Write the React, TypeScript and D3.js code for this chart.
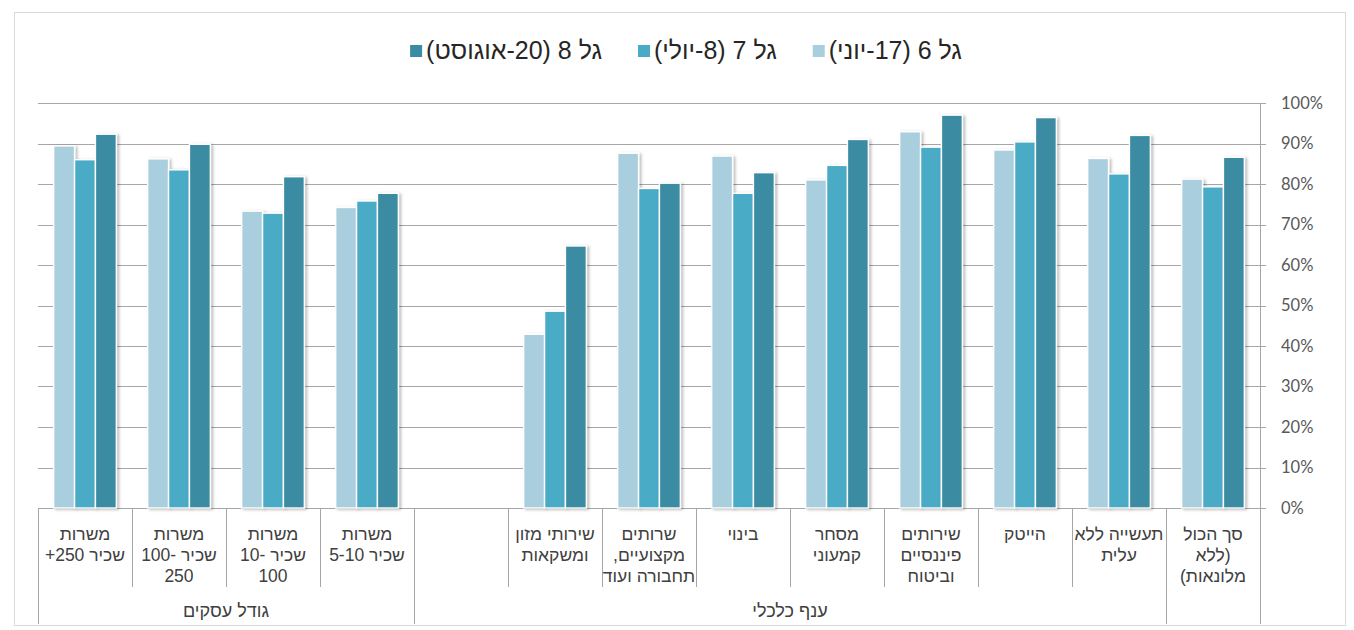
import React, { useEffect, useRef } from "react";
import * as d3 from "d3";

// Categories in logical (right-to-left) order: first = rightmost on the chart
const categoryLines: string[][] = [
  ["סך הכול", "(ללא", "מלונאות)"],
  ["תעשייה ללא", "עלית"],
  ["הייטק"],
  ["שירותים", "פיננסיים", "וביטוח"],
  ["מסחר", "קמעוני"],
  ["בינוי"],
  ["שרותים", "מקצועיים,", "תחבורה ועוד"],
  ["שירותי מזון", "ומשקאות"],
  [],
  ["משרות", "שכיר 5-10"],
  ["משרות", "שכיר \u202A10-\u202C", "100"],
  ["משרות", "שכיר \u202A100-\u202C", "250"],
  ["משרות", "שכיר 250+"],
];

const wave6: (number | null)[] = [81.2, 86.3, 88.4, 92.9, 81.0, 86.9, 87.6, 42.9, null, 74.2, 73.3, 86.2, 89.4];
const wave7: (number | null)[] = [79.3, 82.5, 90.4, 89.1, 84.6, 77.7, 78.9, 48.6, null, 75.8, 72.8, 83.5, 86.0];
const wave8: (number | null)[] = [86.6, 92.0, 96.4, 97.0, 91.0, 82.8, 80.2, 64.7, null, 77.7, 81.8, 89.8, 92.3];

const seriesNames = ["גל 6 (17-יוני)", "גל 7 (8-יולי)", "גל 8 (20-אוגוסט)"];
const seriesColors = ["#a9cfde", "#4aabc6", "#3b8ba2"];

const groupLabels = ["", "ענף כלכלי", "גודל עסקים"];
const groupStarts = [0, 1, 9];
const groupEnds = [0, 8, 12];

const yTicks = [0, 10, 20, 30, 40, 50, 60, 70, 80, 90, 100];

const W = 1354;
const H = 630;
const plotLeft = 38;
const plotRight = 1260;
const plotTop = 103;
const plotBottom = 508;

export default function App() {
  const ref = useRef<SVGSVGElement | null>(null);

  useEffect(() => {
    const svg = d3.select(ref.current);
    svg.selectAll("*").remove();

    const defs = svg.append("defs");
    const f = defs
      .append("filter")
      .attr("id", "shadow")
      .attr("x", "-20%")
      .attr("y", "-5%")
      .attr("width", "150%")
      .attr("height", "115%");
    f.append("feDropShadow")
      .attr("dx", 2)
      .attr("dy", 1)
      .attr("stdDeviation", 1.6)
      .attr("flood-color", "#000")
      .attr("flood-opacity", 0.28);

    // chart border
    svg
      .append("rect")
      .attr("x", 14.5)
      .attr("y", 12.5)
      .attr("width", 1331)
      .attr("height", 613)
      .attr("fill", "#fff")
      .attr("stroke", "#d9d9d9")
      .attr("stroke-width", 1);

    const idx = categoryLines.map((_, i) => i);
    const x = d3.scaleBand<number>().domain(idx).range([plotRight, plotLeft]).padding(0);
    const bw = x.bandwidth();
    const x1 = d3
      .scaleBand<number>()
      .domain([0, 1, 2])
      .range([bw / 6, bw - bw / 6])
      .padding(0);
    const y = d3.scaleLinear().domain([0, 100]).range([plotBottom, plotTop]);

    // gridlines + tick marks
    const grid = svg.append("g");
    yTicks.forEach((t) => {
      grid
        .append("line")
        .attr("x1", plotLeft)
        .attr("x2", plotRight + 6)
        .attr("y1", Math.round(y(t)) + 0.5)
        .attr("y2", Math.round(y(t)) + 0.5)
        .attr("stroke", "#a6a6a6")
        .attr("stroke-width", 1);
      grid
        .append("text")
        .attr("x", plotRight + 21)
        .attr("y", y(t))
        .attr("dy", "0.36em")
        .attr("font-family", "Lato, 'Open Sans', sans-serif")
        .attr("font-size", 16.5)
        .attr("fill", "#595959")
        .text(t + "%");
    });

    // bars
    const series = [wave6, wave7, wave8];
    const barG = svg.append("g");
    series.forEach((vals, s) => {
      vals.forEach((v, i) => {
        if (v == null) return;
        barG
          .append("rect")
          .attr("x", (x(i) as number) + (x1(s) as number))
          .attr("y", y(v))
          .attr("width", x1.bandwidth())
          .attr("height", y(0) - y(v))
          .attr("fill", seriesColors[s])
          .attr("stroke", "#fff")
          .attr("stroke-width", 1.4)
          .attr("filter", "url(#shadow)");
      });
    });

    // vertical axis line
    svg
      .append("line")
      .attr("x1", plotRight + 0.5)
      .attr("x2", plotRight + 0.5)
      .attr("y1", plotTop)
      .attr("y2", 624)
      .attr("stroke", "#a6a6a6");

    // category dividers
    const groupEdges = new Set<number>();
    groupStarts.forEach((g) => groupEdges.add(g));
    groupEnds.forEach((g) => groupEdges.add(g + 1));
    for (let b = 1; b <= categoryLines.length; b++) {
      const bx = Math.round(x(b - 1) as number) + 0.5;
      const long = groupEdges.has(b);
      if (bx >= plotRight) continue;
      svg
        .append("line")
        .attr("x1", bx)
        .attr("x2", bx)
        .attr("y1", plotBottom)
        .attr("y2", long ? 624 : 587)
        .attr("stroke", "#a6a6a6");
    }

    // category labels
    const labG = svg
      .append("g")
      .attr("font-family", "'Liberation Sans', Arial, sans-serif")
      .attr("font-size", 17.5)
      .attr("fill", "#404040");
    categoryLines.forEach((lines, i) => {
      const cx = (x(i) as number) + bw / 2;
      lines.forEach((ln, k) => {
        labG
          .append("text")
          .attr("x", cx)
          .attr("y", 534 + k * 21)
          .attr("dy", "0.36em")
          .attr("text-anchor", "middle")
          .style("direction", "rtl")
          .style("unicode-bidi", "embed")
          .text(ln);
      });
    });

    // group labels
    groupLabels.forEach((g, gi) => {
      if (!g) return;
      const xa = x(groupEnds[gi]) as number;
      const xb = (x(groupStarts[gi]) as number) + bw;
      labG
        .append("text")
        .attr("x", (xa + xb) / 2)
        .attr("y", 611)
        .attr("dy", "0.36em")
        .attr("text-anchor", "middle")
        .attr("font-size", 18)
        .style("direction", "rtl")
        .style("unicode-bidi", "embed")
        .text(g);
    });

    // legend (right-to-left)
    const legG = svg
      .append("g")
      .attr("font-family", "'Liberation Sans', Arial, sans-serif")
      .attr("font-size", 25)
      .attr("fill", "#262626");
    const items = seriesNames.map((name, s) => {
      const t = legG
        .append("text")
        .attr("y", 50)
        .attr("dy", "0.36em")
        .attr("text-anchor", "middle")
        .style("direction", "rtl")
        .style("unicode-bidi", "embed")
        .text(name);
      const w = (t.node() as SVGTextElement).getComputedTextLength();
      const r = legG
        .append("rect")
        .attr("y", 45)
        .attr("width", 12)
        .attr("height", 12)
        .attr("fill", seriesColors[s]);
      return { t, w, r };
    });
    const sq = 12,
      gapIn = 4,
      gapOut = 36;
    const total =
      items.reduce((a, it) => a + it.w + sq + gapIn, 0) + gapOut * (items.length - 1);
    let right = 686 + total / 2;
    items.forEach((it) => {
      it.t.attr("x", right - it.w / 2);
      const sx = right - it.w - gapIn - sq;
      it.r.attr("x", sx);
      right = sx - gapOut;
    });
  }, []);

  return (
    <svg
      ref={ref}
      width={W}
      height={H}
      style={{ position: "absolute", left: 0, top: 0, background: "#fff" }}
    />
  );
}
